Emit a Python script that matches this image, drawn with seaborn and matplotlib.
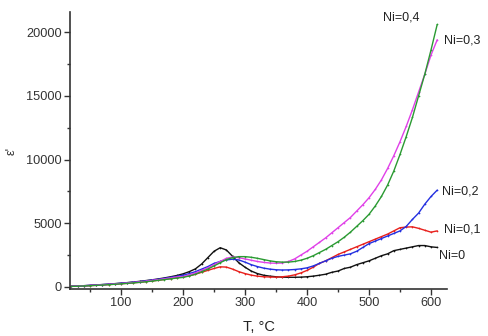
import matplotlib
matplotlib.use("Agg")
import matplotlib.pyplot as plt
import seaborn as sns
import pandas as pd
from matplotlib.ticker import MultipleLocator

# Temperature grid, °C
temperature = list(range(20, 620, 10))

# Permittivity ε' for each Ni content
eps_ni0 = [60, 80, 100, 130, 160, 190, 220, 260, 300, 340, 390, 440, 500, 560, 630, 710, 800, 900,
           1030, 1200, 1420, 1800, 2300, 2800, 3080, 2900, 2400, 1900, 1550, 1250, 1050, 920, 850,
           800, 770, 760, 760, 770, 800, 850, 920, 1000, 1150, 1250, 1450, 1550, 1750, 1900, 2050,
           2250, 2450, 2600, 2850, 2950, 3050, 3150, 3250, 3250, 3150, 3100]
eps_ni01 = [50, 65, 85, 105, 130, 160, 190, 220, 250, 290, 330, 370, 420, 470, 530, 590, 660, 730,
            800, 880, 1000, 1150, 1300, 1450, 1580, 1560, 1400, 1200, 1050, 930, 850, 800, 780,
            770, 800, 850, 950, 1100, 1300, 1550, 1850, 2050, 2300, 2550, 2750, 2950, 3150, 3350,
            3550, 3750, 3950, 4150, 4400, 4650, 4700, 4720, 4600, 4450, 4300, 4400]
eps_ni02 = [55, 75, 95, 125, 155, 185, 215, 250, 290, 330, 375, 420, 480, 540, 600, 670, 750, 830,
            920, 1050, 1200, 1400, 1600, 1850, 2000, 2120, 2180, 2120, 1950, 1750, 1600, 1480, 1400,
            1350, 1330, 1340, 1370, 1420, 1500, 1650, 1850, 2050, 2250, 2400, 2500, 2600, 2800, 3100,
            3400, 3600, 3800, 4000, 4200, 4400, 4750, 5300, 5800, 6500, 7100, 7600]
eps_ni03 = [50, 70, 90, 115, 140, 170, 200, 235, 270, 310, 350, 400, 450, 510, 570, 640, 710, 790,
            820, 950, 1100, 1300, 1500, 1750, 2000, 2250, 2350, 2300, 2200, 2100, 2000, 1930, 1880,
            1860, 1880, 2000, 2200, 2500, 2800, 3150, 3500, 3850, 4250, 4650, 5050, 5450, 5950, 6450,
            7000, 7650, 8400, 9300, 10300, 11400, 12600, 13900, 15300, 16700, 18200, 19400]
eps_ni04 = [45, 60, 80, 100, 125, 150, 180, 210, 245, 280, 320, 360, 410, 460, 520, 580, 640, 700,
            750, 860, 1000, 1200, 1400, 1650, 1900, 2150, 2300, 2380, 2380, 2330, 2250, 2150, 2050,
            1980, 1950, 1950, 2000, 2100, 2250, 2450, 2700, 2950, 3250, 3550, 3900, 4300, 4750, 5200,
            5700, 6350, 7100, 8000, 9100, 10400, 11800, 13300, 15000, 16700, 18600, 20600]

series_names = ["Ni=0", "Ni=0,1", "Ni=0,2", "Ni=0,3", "Ni=0,4"]
series_values = [eps_ni0, eps_ni01, eps_ni02, eps_ni03, eps_ni04]
series_colors = ["#111111", "#e8201c", "#2430e0", "#e040e8", "#2a9a32"]

# Label anchor positions (data coordinates) next to the curve ends
label_x = [613, 621, 618, 621, 523]
label_y = [2430, 4470, 7530, 19370, 21180]

frames = []
for name, vals in zip(series_names, series_values):
    frames.append(pd.DataFrame({"T": temperature, "eps": vals, "series": name}))
df = pd.concat(frames, ignore_index=True)

sns.set_style("ticks")
plt.rcParams["font.family"] = ["Liberation Sans", "DejaVu Sans"]

fig = plt.figure(figsize=(4.88, 3.36), dpi=100)
ax = fig.add_axes([0.1434, 0.14, 0.916 - 0.1434, 0.964 - 0.14])

sns.lineplot(data=df, x="T", y="eps", hue="series", hue_order=series_names,
             palette=dict(zip(series_names, series_colors)), ax=ax, legend=False,
             linewidth=1.0, marker=".", markersize=2.5, markeredgewidth=0)

for name, lx, ly in zip(series_names, label_x, label_y):
    ax.text(lx, ly, name, fontsize=9, color="#222222", ha="left", va="center", clip_on=False)

ax.set_xlim(17.7, 625.8)
ax.set_ylim(-157, 21570)
ax.xaxis.set_major_locator(MultipleLocator(100))
ax.xaxis.set_minor_locator(MultipleLocator(50))
ax.yaxis.set_major_locator(MultipleLocator(5000))
ax.yaxis.set_minor_locator(MultipleLocator(2500))
ax.set_xticks([100, 200, 300, 400, 500, 600])

ax.tick_params(which="major", direction="out", length=4, width=1, colors="#333333",
               labelsize=9.2, labelcolor="#333333", pad=2)
ax.tick_params(which="minor", direction="out", length=2, width=1, colors="#333333")

for side in ("top", "right"):
    ax.spines[side].set_visible(False)
for side in ("left", "bottom"):
    ax.spines[side].set_color("#333333")
    ax.spines[side].set_linewidth(1.2)

ax.set_xlabel("T, °C", fontsize=10.5, color="#222222", labelpad=8)
ax.set_ylabel("ε'", fontsize=9, color="#333333", labelpad=6)

fig.savefig("out.png", dpi=100)
